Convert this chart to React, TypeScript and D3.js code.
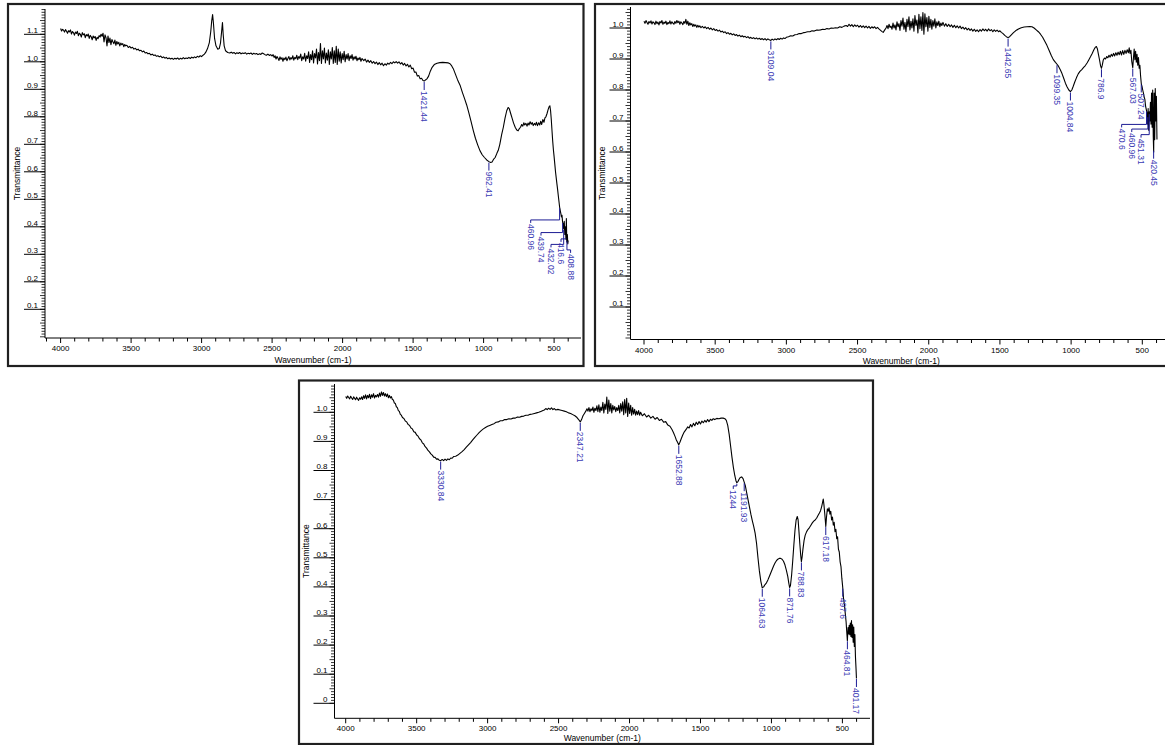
import React from "react";
import * as d3 from "d3";

type Pt = [number, number];

// ---- sample A (top left) : wavenumber (cm-1), transmittance ----
const spectrumA: Pt[] = [
  [4000,1.121],[3993,1.112],[3986,1.118],[3979,1.115],[3972,1.108],[3965,1.117],[3958,1.111],[3951,1.104],[3944,1.113],[3937,1.109],
  [3930,1.116],[3923,1.101],[3916,1.110],[3909,1.106],[3902,1.097],[3895,1.108],[3888,1.103],[3881,1.111],[3874,1.095],[3867,1.104],
  [3860,1.100],[3853,1.090],[3846,1.106],[3839,1.098],[3832,1.102],[3825,1.088],[3818,1.099],[3811,1.094],[3804,1.101],[3797,1.085],
  [3790,1.096],[3783,1.091],[3776,1.080],[3769,1.094],[3762,1.087],[3755,1.092],[3748,1.078],[3741,1.089],[3734,1.084],[3727,1.095],
  [3720,1.090],[3713,1.100],[3706,1.093],[3699,1.104],[3692,1.072],[3685,1.098],[3678,1.088],[3671,1.058],[3664,1.094],[3657,1.070],
  [3650,1.086],[3643,1.062],[3636,1.081],[3629,1.073],[3622,1.066],[3615,1.079],[3608,1.060],[3601,1.074],[3594,1.065],[3587,1.071],
  [3580,1.058],[3573,1.068],[3566,1.062],[3559,1.066],[3552,1.055],[3545,1.063],[3538,1.058],[3530,1.060],[3520,1.052],[3510,1.056],
  [3500,1.050],[3490,1.053],[3480,1.046],[3470,1.049],[3460,1.043],[3450,1.046],[3440,1.040],[3430,1.042],[3420,1.036],[3410,1.039],
  [3400,1.032],[3390,1.034],[3380,1.029],[3370,1.031],[3360,1.025],[3350,1.028],[3340,1.023],[3330,1.025],[3320,1.020],[3310,1.022],
  [3300,1.018],[3290,1.021],[3280,1.015],[3270,1.018],[3260,1.013],[3250,1.016],[3240,1.011],[3230,1.014],[3220,1.010],[3210,1.013],
  [3200,1.009],[3190,1.013],[3180,1.010],[3170,1.014],[3160,1.009],[3150,1.013],[3140,1.010],[3130,1.015],[3120,1.011],[3110,1.014],
  [3100,1.012],[3090,1.016],[3080,1.012],[3070,1.017],[3060,1.014],[3050,1.018],[3040,1.015],[3030,1.020],[3020,1.017],[3010,1.022],
  [3000,1.019],[2990,1.024],[2980,1.028],[2970,1.035],[2958,1.048],[2945,1.070],[2935,1.110],[2928,1.150],[2922,1.172],[2916,1.140],
  [2908,1.085],[2898,1.058],[2885,1.046],[2875,1.048],[2866,1.068],[2858,1.110],[2852,1.143],[2847,1.100],[2840,1.058],[2830,1.040],
  [2815,1.034],[2800,1.032],[2790,1.035],[2780,1.031],[2770,1.034],[2760,1.029],[2750,1.033],[2740,1.030],[2730,1.034],[2720,1.029],
  [2710,1.032],[2700,1.030],[2690,1.033],[2680,1.028],[2670,1.031],[2660,1.029],[2650,1.032],[2640,1.027],[2630,1.031],[2620,1.028],
  [2610,1.030],[2600,1.026],[2590,1.029],[2580,1.027],[2570,1.032],[2560,1.029],[2550,1.026],[2540,1.024],[2530,1.028],[2520,1.023],
  [2510,1.026],[2500,1.021],[2493,1.026],[2486,1.016],[2479,1.022],[2472,1.010],[2465,1.019],[2458,1.013],[2451,1.005],[2444,1.018],
  [2437,1.009],[2430,1.015],[2423,1.002],[2416,1.014],[2409,1.008],[2402,1.017],[2395,1.004],[2388,1.012],[2381,1.019],[2374,1.007],
  [2367,1.015],[2360,1.010],[2353,1.022],[2346,1.006],[2339,1.016],[2332,1.011],[2325,1.024],[2318,1.008],[2311,1.019],[2304,1.013],
  [2297,1.028],[2290,1.004],[2283,1.018],[2276,1.010],[2269,1.031],[2262,1.002],[2255,1.022],[2248,1.012],[2241,1.036],[2234,0.998],
  [2227,1.026],[2220,1.008],[2213,1.040],[2206,0.996],[2199,1.030],[2192,1.014],[2185,1.046],[2178,0.992],[2171,1.034],[2164,1.004],
  [2157,1.066],[2150,0.994],[2143,1.040],[2136,1.010],[2129,1.050],[2122,0.996],[2115,1.032],[2108,1.006],[2101,1.044],[2094,0.990],
  [2087,1.036],[2080,1.010],[2073,1.052],[2066,0.994],[2059,1.040],[2052,0.998],[2045,1.056],[2038,0.990],[2031,1.046],[2024,1.002],
  [2017,1.036],[2010,0.996],[2003,1.030],[1996,1.008],[1989,1.038],[1982,1.000],[1975,1.026],[1968,1.010],[1961,1.030],[1954,1.004],
  [1947,1.022],[1940,1.012],[1933,1.026],[1926,1.006],[1919,1.018],[1912,1.010],[1905,1.020],[1898,1.004],[1891,1.014],[1884,1.008],
  [1877,1.016],[1870,1.002],[1862,1.012],[1850,1.004],[1840,1.010],[1830,0.999],[1820,1.006],[1810,0.998],[1800,1.004],[1790,0.995],
  [1780,1.001],[1770,0.993],[1760,0.999],[1750,0.990],[1740,0.997],[1730,0.989],[1720,0.995],[1710,0.986],[1700,0.993],[1690,0.988],
  [1680,0.995],[1670,0.991],[1660,0.998],[1650,0.993],[1640,1.000],[1630,0.996],[1620,1.001],[1610,0.995],[1600,1.000],[1590,0.992],
  [1580,0.997],[1570,0.988],[1560,0.994],[1550,0.985],[1540,0.991],[1530,0.981],[1520,0.988],[1510,0.975],[1500,0.977],[1490,0.962],
  [1480,0.963],[1470,0.948],[1460,0.950],[1450,0.938],[1440,0.940],[1430,0.932],[1421,0.930],[1412,0.934],[1402,0.938],[1390,0.948],
  [1378,0.966],[1365,0.980],[1350,0.990],[1330,0.995],[1310,0.997],[1290,0.998],[1270,0.997],[1250,0.996],[1238,0.993],[1226,0.985],
  [1215,0.975],[1200,0.955],[1185,0.935],[1167,0.915],[1150,0.888],[1135,0.866],[1120,0.843],[1105,0.815],[1090,0.785],[1073,0.750],
  [1058,0.722],[1042,0.698],[1026,0.677],[1010,0.662],[994,0.652],[978,0.643],[962,0.637],[950,0.634],[940,0.636],[930,0.645],
  [918,0.652],[905,0.668],[896,0.678],[885,0.700],[872,0.735],[860,0.762],[848,0.795],[836,0.822],[826,0.834],[818,0.830],
  [808,0.812],[798,0.795],[788,0.778],[776,0.762],[765,0.752],[755,0.749],[745,0.758],[738,0.762],[730,0.772],[722,0.766],
  [715,0.778],[708,0.770],[700,0.776],[692,0.766],[685,0.777],[678,0.770],[670,0.782],[662,0.773],[655,0.779],[648,0.768],
  [640,0.776],[632,0.770],[625,0.780],[618,0.768],[610,0.778],[602,0.770],[595,0.784],[588,0.772],[580,0.790],[572,0.780],
  [565,0.796],[558,0.800],[550,0.812],[543,0.825],[536,0.836],[530,0.840],[525,0.822],[520,0.790],[515,0.750],[510,0.712],
  [505,0.680],[500,0.655],[495,0.628],[490,0.600],[485,0.578],[480,0.556],[475,0.535],[470,0.512],[465,0.490],[461,0.472],
  [456,0.458],[452,0.448],[448,0.436],[444,0.442],[440,0.418],[436,0.410],[432,0.392],[428,0.420],[424,0.372],[420,0.400],
  [416,0.355],[413,0.430],[410,0.345],[406,0.372],[403,0.338],[400,0.350],
];
const peaksA = ["1421.44", "962.41"];
const clusterA = ["460.96", "439.74", "432.02", "416.6", "408.88"];

// ---- sample B (top right) ----
const spectrumB: Pt[] = [
  [4000,1.022],[3993,1.015],[3986,1.024],[3979,1.018],[3972,1.012],[3965,1.021],[3958,1.016],[3951,1.023],[3944,1.013],[3937,1.020],
  [3930,1.017],[3923,1.011],[3916,1.022],[3909,1.014],[3902,1.019],[3895,1.010],[3888,1.021],[3881,1.016],[3874,1.024],[3867,1.012],
  [3860,1.019],[3853,1.015],[3846,1.022],[3839,1.011],[3832,1.018],[3825,1.014],[3818,1.023],[3811,1.013],[3804,1.020],[3797,1.016],
  [3790,1.012],[3783,1.021],[3776,1.015],[3769,1.024],[3762,1.017],[3755,1.022],[3748,1.012],[3741,1.020],[3734,1.016],[3727,1.011],
  [3720,1.021],[3713,1.015],[3706,1.028],[3699,1.012],[3692,1.022],[3685,1.008],[3678,1.017],[3671,1.010],[3664,1.014],[3657,1.005],
  [3650,1.012],[3643,1.006],[3636,1.010],[3629,1.002],[3622,1.009],[3615,1.003],[3608,1.007],[3600,1.001],[3590,1.005],[3580,1.000],
  [3570,1.004],[3560,0.998],[3550,1.002],[3540,0.996],[3530,1.000],[3520,0.994],[3510,0.998],[3500,0.992],[3490,0.995],[3480,0.990],
  [3470,0.993],[3460,0.987],[3450,0.990],[3440,0.985],[3430,0.988],[3420,0.982],[3410,0.985],[3400,0.980],[3390,0.983],[3380,0.978],
  [3370,0.981],[3360,0.976],[3350,0.979],[3340,0.974],[3330,0.977],[3320,0.972],[3310,0.975],[3300,0.971],[3290,0.973],[3280,0.969],
  [3270,0.972],[3260,0.967],[3250,0.970],[3240,0.966],[3230,0.969],[3220,0.965],[3210,0.968],[3200,0.964],[3190,0.967],[3180,0.963],
  [3170,0.966],[3160,0.962],[3150,0.966],[3140,0.961],[3130,0.965],[3120,0.962],[3109,0.960],[3100,0.964],[3090,0.961],[3080,0.965],
  [3070,0.962],[3060,0.966],[3050,0.963],[3040,0.967],[3030,0.964],[3020,0.968],[3010,0.966],[3000,0.970],[2985,0.972],[2970,0.975],
  [2955,0.974],[2940,0.978],[2925,0.979],[2910,0.982],[2895,0.982],[2880,0.985],[2865,0.986],[2850,0.988],[2835,0.988],[2820,0.991],
  [2805,0.990],[2790,0.993],[2775,0.993],[2760,0.994],[2745,0.996],[2730,0.995],[2715,0.998],[2700,0.997],[2685,1.000],[2670,0.999],
  [2655,1.001],[2640,1.000],[2625,1.004],[2610,1.002],[2595,1.006],[2580,1.008],[2570,1.005],[2560,1.012],[2550,1.006],[2540,1.011],
  [2530,1.004],[2520,1.010],[2510,1.005],[2500,1.009],[2490,1.003],[2480,1.008],[2470,1.002],[2460,1.007],[2450,1.001],[2440,1.006],
  [2430,1.000],[2420,1.005],[2410,0.999],[2400,1.004],[2390,1.000],[2380,1.004],[2370,0.998],[2360,1.002],[2350,0.997],[2340,0.993],
  [2330,0.989],[2320,0.986],[2310,0.993],[2300,1.000],[2293,1.008],[2286,0.998],[2279,1.012],[2272,1.002],[2265,1.006],[2258,0.996],
  [2251,1.016],[2244,1.000],[2237,1.010],[2230,0.994],[2223,1.020],[2216,1.004],[2209,1.014],[2202,0.992],[2195,1.024],[2188,1.006],
  [2181,1.032],[2174,0.996],[2167,1.018],[2160,0.988],[2153,1.028],[2146,1.004],[2139,1.036],[2132,0.994],[2125,1.022],[2118,1.000],
  [2111,1.030],[2104,0.990],[2097,1.040],[2090,1.008],[2083,1.026],[2076,0.984],[2069,1.044],[2062,0.998],[2055,1.036],[2048,0.992],
  [2041,1.050],[2034,0.980],[2027,1.046],[2020,1.004],[2013,1.034],[2006,0.990],[1999,1.038],[1992,1.002],[1985,1.028],[1978,0.996],
  [1971,1.024],[1964,1.006],[1957,1.030],[1950,1.000],[1943,1.020],[1936,1.008],[1929,1.022],[1922,1.004],[1915,1.016],[1908,1.008],
  [1900,1.018],[1890,1.006],[1880,1.014],[1870,1.005],[1860,1.012],[1850,1.004],[1840,1.010],[1830,1.002],[1820,1.009],[1810,1.001],
  [1800,1.007],[1790,1.000],[1780,1.006],[1770,0.998],[1760,1.003],[1750,0.996],[1740,1.001],[1730,0.994],[1720,0.999],[1710,0.992],
  [1700,0.997],[1690,0.990],[1680,0.996],[1670,0.989],[1660,0.994],[1650,0.988],[1640,0.995],[1630,0.990],[1620,0.997],[1610,0.991],
  [1600,0.996],[1590,0.990],[1580,0.997],[1570,0.991],[1560,0.995],[1550,0.988],[1540,0.994],[1530,0.989],[1520,0.993],[1510,0.988],
  [1500,0.991],[1490,0.986],[1478,0.982],[1466,0.976],[1455,0.972],[1443,0.969],[1432,0.972],[1420,0.978],[1405,0.985],[1390,0.991],
  [1370,0.997],[1350,1.001],[1330,1.003],[1310,1.004],[1290,1.005],[1275,1.004],[1260,1.000],[1245,0.994],[1230,0.988],[1215,0.980],
  [1200,0.970],[1185,0.957],[1170,0.944],[1155,0.928],[1140,0.912],[1125,0.898],[1110,0.889],[1099,0.883],[1088,0.876],[1076,0.865],
  [1064,0.853],[1052,0.838],[1040,0.822],[1028,0.810],[1016,0.800],[1005,0.795],[995,0.800],[985,0.812],[975,0.825],[962,0.840],
  [950,0.852],[938,0.860],[925,0.866],[912,0.873],[900,0.879],[888,0.887],[876,0.897],[864,0.907],[852,0.918],[840,0.930],
  [830,0.938],[822,0.940],[815,0.932],[808,0.915],[800,0.896],[793,0.878],[787,0.870],[781,0.880],[774,0.897],[766,0.903],
  [758,0.900],[750,0.908],[742,0.904],[734,0.912],[726,0.906],[718,0.915],[710,0.909],[702,0.918],[694,0.910],[686,0.920],
  [678,0.912],[670,0.922],[662,0.914],[654,0.925],[646,0.913],[638,0.927],[630,0.915],[622,0.928],[614,0.918],[606,0.930],
  [598,0.920],[592,0.936],[586,0.918],[580,0.928],[574,0.892],[567,0.872],[562,0.905],[557,0.932],[552,0.898],[547,0.925],
  [542,0.890],[537,0.915],[532,0.880],[527,0.905],[522,0.870],[517,0.880],[512,0.845],[507,0.820],[502,0.812],[497,0.800],
  [492,0.790],[487,0.778],[482,0.770],[477,0.748],[471,0.735],[467,0.725],[463,0.690],[459,0.740],[455,0.670],[451,0.730],
  [447,0.700],[443,0.760],[439,0.690],[435,0.790],[431,0.680],[427,0.800],[423,0.650],[420,0.600],[417,0.790],[413,0.640],
  [409,0.805],[405,0.700],[401,0.780],[397,0.640],
];
const peaksB = ["3109.04", "1442.65", "1099.35", "1004.84", "786.9", "567.03", "507.24", "420.45"];
const clusterB = ["470.6", "460.96", "451.31"];

// ---- sample C (bottom) ----
const spectrumC: Pt[] = [
  [4000,1.054],[3993,1.048],[3986,1.056],[3979,1.051],[3972,1.046],[3965,1.055],[3958,1.049],[3951,1.044],[3944,1.053],[3937,1.048],
  [3930,1.043],[3923,1.052],[3916,1.046],[3909,1.041],[3902,1.050],[3895,1.045],[3888,1.053],[3881,1.044],[3874,1.057],[3867,1.048],
  [3860,1.060],[3853,1.046],[3846,1.058],[3839,1.050],[3832,1.062],[3825,1.047],[3818,1.060],[3811,1.052],[3804,1.064],[3797,1.049],
  [3790,1.058],[3783,1.053],[3776,1.061],[3769,1.052],[3762,1.066],[3755,1.055],[3748,1.070],[3741,1.058],[3734,1.068],[3727,1.056],
  [3720,1.064],[3713,1.054],[3706,1.063],[3699,1.050],[3692,1.058],[3685,1.049],[3678,1.054],[3671,1.044],[3664,1.042],[3657,1.032],
  [3650,1.030],[3643,1.019],[3636,1.016],[3629,1.006],[3622,1.003],[3615,0.993],[3608,0.990],[3600,0.982],[3590,0.979],[3580,0.970],
  [3570,0.967],[3560,0.958],[3550,0.955],[3540,0.946],[3530,0.943],[3520,0.933],[3510,0.931],[3500,0.922],[3490,0.918],[3480,0.909],
  [3470,0.905],[3460,0.895],[3450,0.891],[3440,0.882],[3430,0.877],[3420,0.869],[3410,0.864],[3400,0.857],[3390,0.853],[3380,0.846],
  [3370,0.845],[3360,0.839],[3350,0.840],[3340,0.835],[3331,0.834],[3320,0.838],[3310,0.834],[3300,0.839],[3290,0.835],[3280,0.840],
  [3270,0.837],[3260,0.843],[3250,0.842],[3240,0.848],[3225,0.849],[3210,0.853],[3195,0.859],[3180,0.865],[3165,0.872],[3150,0.880],
  [3135,0.888],[3120,0.896],[3105,0.905],[3090,0.914],[3075,0.922],[3060,0.930],[3045,0.937],[3030,0.943],[3015,0.948],[3000,0.952],
  [2985,0.955],[2970,0.958],[2955,0.961],[2940,0.966],[2925,0.967],[2910,0.971],[2895,0.971],[2880,0.975],[2865,0.975],[2850,0.978],
  [2835,0.977],[2820,0.980],[2805,0.980],[2790,0.984],[2775,0.983],[2760,0.986],[2745,0.987],[2730,0.990],[2715,0.990],[2700,0.993],
  [2685,0.994],[2670,0.996],[2655,0.998],[2640,1.000],[2625,1.003],[2610,1.006],[2600,1.008],[2590,1.013],[2580,1.009],[2570,1.014],
  [2560,1.010],[2550,1.015],[2540,1.009],[2530,1.013],[2520,1.008],[2505,1.010],[2490,1.008],[2475,1.006],[2460,1.004],[2445,1.002],
  [2430,0.998],[2415,0.996],[2400,0.992],[2385,0.988],[2370,0.982],[2360,0.976],[2347,0.967],[2338,0.975],[2328,0.988],[2318,0.996],
  [2308,1.004],[2300,1.012],[2293,1.004],[2286,1.016],[2279,1.002],[2272,1.012],[2265,1.006],[2258,1.018],[2251,1.000],[2244,1.014],
  [2237,1.006],[2230,1.022],[2223,1.002],[2216,1.026],[2209,1.000],[2202,1.018],[2195,1.006],[2188,1.034],[2181,0.998],[2174,1.028],
  [2167,1.010],[2160,1.052],[2153,0.996],[2146,1.042],[2139,1.004],[2132,1.030],[2125,0.998],[2118,1.024],[2111,1.008],[2104,1.020],
  [2097,1.002],[2090,1.016],[2083,1.006],[2076,1.024],[2069,0.998],[2062,1.030],[2055,1.004],[2048,1.036],[2041,0.992],[2034,1.044],
  [2027,0.998],[2020,1.048],[2013,0.986],[2006,1.032],[1999,0.996],[1992,1.024],[1985,0.990],[1978,1.016],[1971,0.994],[1964,1.010],
  [1957,0.990],[1950,1.004],[1943,0.992],[1936,1.006],[1929,0.990],[1922,1.000],[1910,0.988],[1895,0.995],[1880,0.984],[1865,0.990],
  [1850,0.980],[1835,0.986],[1820,0.976],[1805,0.982],[1790,0.972],[1775,0.976],[1760,0.966],[1745,0.968],[1730,0.956],[1715,0.952],
  [1700,0.940],[1690,0.930],[1680,0.918],[1670,0.905],[1660,0.895],[1653,0.888],[1645,0.897],[1635,0.910],[1625,0.922],[1615,0.932],
  [1600,0.942],[1590,0.950],[1580,0.946],[1570,0.958],[1560,0.950],[1550,0.962],[1540,0.954],[1530,0.966],[1520,0.958],[1510,0.968],
  [1500,0.960],[1490,0.970],[1480,0.964],[1470,0.972],[1460,0.966],[1450,0.975],[1440,0.968],[1430,0.976],[1420,0.972],[1410,0.978],
  [1400,0.975],[1385,0.979],[1370,0.978],[1355,0.980],[1340,0.980],[1328,0.978],[1318,0.972],[1308,0.955],[1298,0.925],[1288,0.885],
  [1278,0.845],[1268,0.810],[1258,0.782],[1250,0.765],[1244,0.758],[1236,0.762],[1228,0.770],[1220,0.776],[1210,0.778],[1200,0.772],
  [1192,0.760],[1184,0.748],[1175,0.725],[1165,0.700],[1155,0.675],[1145,0.650],[1135,0.628],[1125,0.608],[1115,0.585],[1105,0.550],
  [1095,0.500],[1085,0.455],[1075,0.420],[1065,0.397],[1055,0.400],[1045,0.408],[1035,0.414],[1025,0.424],[1015,0.436],[1005,0.448],
  [995,0.460],[985,0.472],[975,0.482],[965,0.490],[955,0.495],[945,0.498],[935,0.498],[925,0.495],[915,0.488],[905,0.476],
  [895,0.458],[885,0.436],[878,0.414],[872,0.398],[866,0.405],[858,0.440],[850,0.490],[842,0.545],[834,0.595],[826,0.630],
  [818,0.642],[812,0.630],[806,0.590],[800,0.548],[794,0.510],[789,0.487],[784,0.502],[778,0.530],[770,0.560],[762,0.578],
  [752,0.590],[742,0.598],[732,0.604],[722,0.612],[712,0.620],[702,0.626],[692,0.630],[682,0.636],[672,0.645],[662,0.654],
  [654,0.662],[646,0.676],[640,0.690],[635,0.702],[630,0.682],[624,0.650],[617,0.608],[612,0.640],[606,0.668],[600,0.660],
  [594,0.672],[588,0.650],[582,0.660],[576,0.630],[570,0.640],[564,0.612],[558,0.622],[552,0.590],[546,0.598],[540,0.566],
  [534,0.572],[528,0.530],[522,0.520],[516,0.486],[510,0.470],[504,0.430],[498,0.400],[492,0.360],[486,0.340],[480,0.310],
  [474,0.280],[470,0.250],[465,0.215],[460,0.260],[456,0.238],[452,0.268],[448,0.236],[444,0.276],[440,0.230],[436,0.284],
  [432,0.226],[428,0.270],[424,0.210],[420,0.262],[416,0.195],[412,0.236],[408,0.160],[404,0.120],[401,0.085],
];
const peaksC = ["3330.84", "2347.21", "1652.88", "1191.93", "1064.63", "871.76", "788.83", "617.18", "497.6", "464.81", "401.17"];
const clusterC = ["1244"];

const xTickLabels = [4000, 3500, 3000, 2500, 2000, 1500, 1000, 500];
const yTicksA = [0.1, 0.2, 0.3, 0.4, 0.5, 0.6, 0.7, 0.8, 0.9, 1.0, 1.1];
const yTicksB = [0.1, 0.2, 0.3, 0.4, 0.5, 0.6, 0.7, 0.8, 0.9, 1.0];
const yTicksC = [0, 0.1, 0.2, 0.3, 0.4, 0.5, 0.6, 0.7, 0.8, 0.9, 1.0];

// leader placement for the crowded labels: label column (cm-1) and elbow height (T)
const calloutsA = [
  { at: 666, bend: 0.425 },
  { at: 593, bend: 0.379 },
  { at: 522, bend: 0.336 },
  { at: 451, bend: 0.356 },
  { at: 383, bend: 0.316 },
];
const calloutsB = [
  { at: 645, bend: 0.689 },
  { at: 574, bend: 0.674 },
  { at: 509, bend: 0.656 },
];
const calloutsC = [{ at: 1269, bend: 0.747 }];

type Layout = {
  frame: [number, number, number, number];
  x4000: number; x500: number;
  y0: number; y1: number;
  axisL: number; axisR: number; axisT: number; axisB: number;
  titleDy: number;
};

const layoutA: Layout = { frame: [8, 4, 583.5, 366], x4000: 60.6, x500: 554.1, y0: 336.8, y1: 61.8, axisL: 45, axisR: 581, axisT: 9, axisB: 338, titleDy: 25 };
const layoutB: Layout = { frame: [595, 4, 1185, 366], x4000: 644, x500: 1142.3, y0: 338, y1: 28, axisL: 630.5, axisR: 1172, axisT: 7, axisB: 339.5, titleDy: 24 };
const layoutC: Layout = { frame: [299, 380.5, 873, 744], x4000: 345.7, x500: 842.4, y0: 703.3, y1: 412.3, axisL: 334.5, axisR: 870, axisT: 384, axisB: 718.3, titleDy: 22.5 };

const FONT = "'Liberation Sans', Arial, Helvetica, sans-serif";
const LABEL_TEXT = "#3a3ab4";
const LABEL_LINE = "#1c1c94";

function valueAt(data: Pt[], wn: number) {
  for (let i = 0; i < data.length - 1; i++) {
    const a = data[i], b = data[i + 1];
    if (wn <= a[0] && wn >= b[0]) {
      const t = (a[0] - wn) / (a[0] - b[0]);
      return a[1] + (b[1] - a[1]) * t;
    }
  }
  return data[data.length - 1][1];
}

function Spectrum({ data, peaks, cluster, callouts, yTicks, layout }: {
  data: Pt[]; peaks: string[]; cluster: string[];
  callouts: { at: number; bend: number }[]; yTicks: number[]; layout: Layout;
}) {
  const L = layout;
  const x = d3.scaleLinear().domain([4000, 500]).range([L.x4000, L.x500]);
  const y = d3.scaleLinear().domain([0, 1]).range([L.y0, L.y1]);
  const line = d3.line<Pt>().x(d => x(d[0])).y(d => y(d[1]));

  const wnMax = x.invert(L.axisL), wnMin = x.invert(L.axisR);
  const xMinor = d3.range(4100, 0, -100).filter(w => w <= wnMax && w >= wnMin);
  const vMin = y.invert(L.axisB), vMax = y.invert(L.axisT);
  const yMinor = d3.range(0, 130).map(i => i / 100).filter(v => v >= vMin && v <= vMax);

  const [fx, fy, fx2, fy2] = L.frame;
  const fmt = (v: number) => (v === 0 ? "0" : d3.format(".1f")(v));

  return (
    <g>
      <rect x={fx} y={fy} width={fx2 - fx} height={fy2 - fy} fill="#fff" stroke="#202020" strokeWidth={2.2} />
      {/* axes */}
      <line x1={L.axisL} x2={L.axisL} y1={L.axisT} y2={L.axisB} stroke="#000" strokeWidth={1} />
      <line x1={L.axisL} x2={L.axisR} y1={L.axisB} y2={L.axisB} stroke="#000" strokeWidth={1} />
      {xMinor.map(w => (
        <line key={"xt" + w} x1={x(w)} x2={x(w)} y1={L.axisB} y2={L.axisB + (w % 500 === 0 ? 5 : 3.5)} stroke="#000" strokeWidth={1} />
      ))}
      {xTickLabels.map(w => (
        <text key={"xl" + w} x={x(w)} y={L.axisB + 13} fontSize={8} fontFamily={FONT} textAnchor="middle">{w}</text>
      ))}
      <text x={(L.axisL + L.axisR) / 2} y={L.axisB + L.titleDy} fontSize={8.5} fontFamily={FONT} textAnchor="middle">Wavenumber (cm-1)</text>
      {yMinor.map(v => (
        <line key={"ym" + v} x1={L.axisL - (Math.round(v * 100) % 5 === 0 ? 5 : 3.5)} x2={L.axisL} y1={y(v)} y2={y(v)} stroke="#000" strokeWidth={0.8} />
      ))}
      {yTicks.map(v => (
        <g key={"yt" + v}>
          <line x1={L.axisL - 21} x2={L.axisL} y1={y(v)} y2={y(v)} stroke="#000" strokeWidth={1} />
          <text x={L.axisL - 7} y={y(v) - 1.2} fontSize={8} fontFamily={FONT} textAnchor="end">{fmt(v)}</text>
        </g>
      ))}
      <text transform={`translate(${L.axisL - 28.5},${(L.axisT + L.axisB) / 2}) rotate(-90)`} fontSize={8.5} fontFamily={FONT}
        textAnchor="middle" dominantBaseline="central">Transmittance</text>

      <path d={line(data) || ""} fill="none" stroke="#000" strokeWidth={1.1} strokeLinejoin="round" />

      {/* peak labels */}
      {peaks.map(p => {
        const wn = parseFloat(p);
        const px = x(wn), py = y(valueAt(data, wn)) + 1;
        return (
          <g key={"pk" + p}>
            <line x1={px} x2={px} y1={py} y2={py + 8} stroke={LABEL_LINE} strokeWidth={1} />
            <text transform={`translate(${px},${py + 9}) rotate(90)`} fontSize={8.5} fontFamily={FONT}
              fill={LABEL_TEXT} dominantBaseline="central">{p}</text>
          </g>
        );
      })}
      {cluster.map((p, i) => {
        const wn = parseFloat(p);
        const px = x(wn), py = y(valueAt(data, wn)) + 1;
        const bx = x(callouts[i].at), by = y(callouts[i].bend);
        return (
          <g key={"cl" + p}>
            <polyline points={`${px},${Math.min(py, by)} ${px},${by} ${bx},${by} ${bx},${by + 3}`} fill="none" stroke={LABEL_LINE} strokeWidth={1} />
            <text transform={`translate(${bx},${by + 4}) rotate(90)`} fontSize={8.5} fontFamily={FONT}
              fill={LABEL_TEXT} dominantBaseline="central">{p}</text>
          </g>
        );
      })}
    </g>
  );
}

export default function App() {
  return (
    <svg width={1165} height={745} style={{ position: "absolute", left: 0, top: 0, background: "#fff" }}>
      <Spectrum data={spectrumA} peaks={peaksA} cluster={clusterA} callouts={calloutsA} yTicks={yTicksA} layout={layoutA} />
      <Spectrum data={spectrumB} peaks={peaksB} cluster={clusterB} callouts={calloutsB} yTicks={yTicksB} layout={layoutB} />
      <Spectrum data={spectrumC} peaks={peaksC} cluster={clusterC} callouts={calloutsC} yTicks={yTicksC} layout={layoutC} />
    </svg>
  );
}
